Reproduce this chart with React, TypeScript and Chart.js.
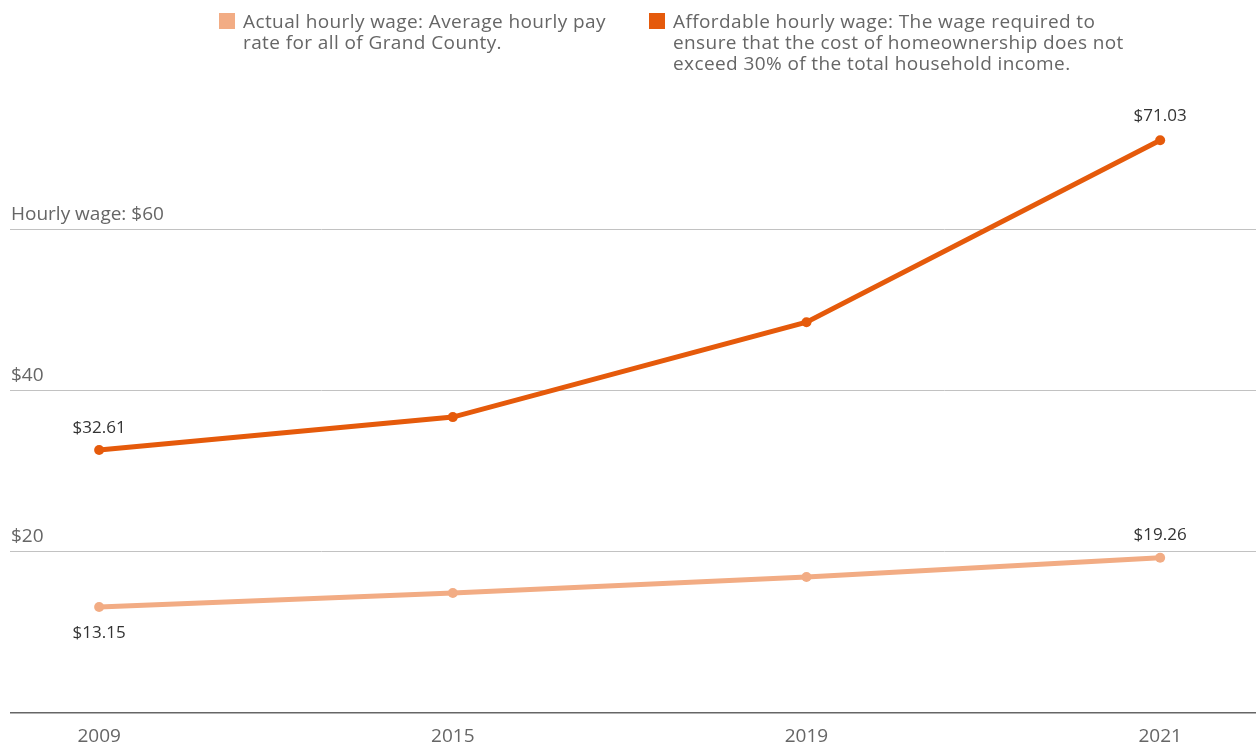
import {useEffect, useRef} from "react";
import {Chart, registerables, Plugin} from "chart.js";

Chart.register(...registerables);

const years = ["2009", "2015", "2019", "2021"];
const actualWage = [13.15, 14.88, 16.86, 19.26];
const affordableWage = [32.61, 36.7, 48.47, 71.03];
const yTickLabels: Record<number, string> = {60: "Hourly wage: $60", 40: "$40", 20: "$20"};
// which points carry a value label
const actualLabelled = [0, 3];
const affordableLabelled = [0, 3];

const ORANGE = "#e55a0b";
const PEACH = "#f2ac84";
const FONT = "'Open Sans', sans-serif";

const valueLabels: Plugin<"line"> = {
  id: "valueLabels",
  afterDatasetsDraw(chart) {
    const ctx = chart.ctx;
    ctx.save();
    ctx.font = `17px ${FONT}`;
    ctx.fillStyle = "#333";
    ctx.textAlign = "center";
    ctx.textBaseline = "middle";
    const draw = (dsIndex: number, idx: number[], offsets: number[]) => {
      const meta = chart.getDatasetMeta(dsIndex);
      idx.forEach((i, k) => {
        const pt = meta.data[i];
        const v = chart.data.datasets[dsIndex].data[i] as {x: number; y: number};
        ctx.fillText(`$${v.y.toFixed(2)}`, pt.x, pt.y + offsets[k]);
      });
    };
    draw(0, actualLabelled, [26, -23]);
    draw(1, affordableLabelled, [-22, -24]);
    ctx.restore();
  },
};

function Legend() {
  const item = (color: string, left: number, lines: string[]) => (
    <div style={{position: "absolute", left, top: 13, display: "flex"}}>
      <div style={{width: 16, height: 16, background: color, marginTop: 0, marginRight: 8, flex: "none"}} />
      <div
        style={{
          fontFamily: FONT,
          fontSize: 19,
          lineHeight: "21px",
          marginTop: -2,
          letterSpacing: 0.4,
          color: "#666",
          whiteSpace: "nowrap",
        }}
      >
        {lines.map(l => (
          <div key={l}>{l}</div>
        ))}
      </div>
    </div>
  );
  return (
    <>
      {item(PEACH, 219, ["Actual hourly wage: Average hourly pay", "rate for all of Grand County."])}
      {item(ORANGE, 649, [
        "Affordable hourly wage: The wage required to",
        "ensure that the cost of homeownership does not",
        "exceed 30% of the total household income.",
      ])}
    </>
  );
}

export default function App() {
  const canvasRef = useRef<HTMLCanvasElement>(null);
  const chartInstance = useRef<Chart | null>(null);

  useEffect(() => {
    document.body.style.margin = "0";
    if (!canvasRef.current) return;
    if (chartInstance.current) chartInstance.current.destroy();

    chartInstance.current = new Chart(canvasRef.current, {
      type: "line",
      data: {
        datasets: [
          {
            label: "Actual hourly wage",
            data: actualWage.map((y, x) => ({x, y})),
            borderColor: PEACH,
            backgroundColor: PEACH,
            borderWidth: 5,
            pointRadius: 5,
            pointBorderWidth: 0,
          },
          {
            label: "Affordable hourly wage",
            data: affordableWage.map((y, x) => ({x, y})),
            borderColor: ORANGE,
            backgroundColor: ORANGE,
            borderWidth: 5,
            pointRadius: 5,
            pointBorderWidth: 0,
          },
        ],
      },
      options: {
        responsive: false,
        animation: false,
        layout: {autoPadding: false, padding: {top: 68, left: 10, right: 0, bottom: 0}},
        plugins: {legend: {display: false}, tooltip: {enabled: false}},
        scales: {
          x: {
            type: "linear",
            min: -0.252,
            max: 3.271,
            grid: {display: false, drawTicks: false},
            border: {display: false},
            ticks: {
              stepSize: 1,
              includeBounds: false,
              autoSkip: false,
              maxRotation: 0,
              padding: 12,
              color: "#666",
              font: {family: FONT, size: 19},
              callback: v => years[v as number] ?? "",
            },
            afterFit: scale => {
              scale.height = 30;
              scale.paddingLeft = 0;
              scale.paddingRight = 0;
            },
          },
          y: {
            min: 0,
            max: 80,
            grid: {
              drawTicks: false,
              lineWidth: ctx => (ctx.tick && ctx.tick.value === 0 ? 1.5 : 1),
              color: ctx =>
                ctx.tick && ctx.tick.value === 0 ? "#666" : ctx.tick && ctx.tick.value === 80 ? "rgba(0,0,0,0)" : "#c2c2c2",
            },
            border: {display: false},
            ticks: {
              stepSize: 20,
              mirror: true,
              padding: 1,
              labelOffset: -15,
              color: "#666",
              font: {family: FONT, size: 19},
              callback: v => yTickLabels[v as number] ?? "",
            },
            afterFit: scale => {
              scale.width = 0;
              scale.paddingTop = 0;
              scale.paddingBottom = 0;
            },
          },
        },
      },
      plugins: [valueLabels],
    });

    return () => {
      if (chartInstance.current) {
        chartInstance.current.destroy();
        chartInstance.current = null;
      }
    };
  }, []);

  return (
    <div style={{position: "relative", width: 1256, height: 743, background: "#fff"}}>
      <canvas ref={canvasRef} width={1256} height={743} style={{position: "absolute", left: 0, top: 0}} />
      <Legend />
    </div>
  );
}
